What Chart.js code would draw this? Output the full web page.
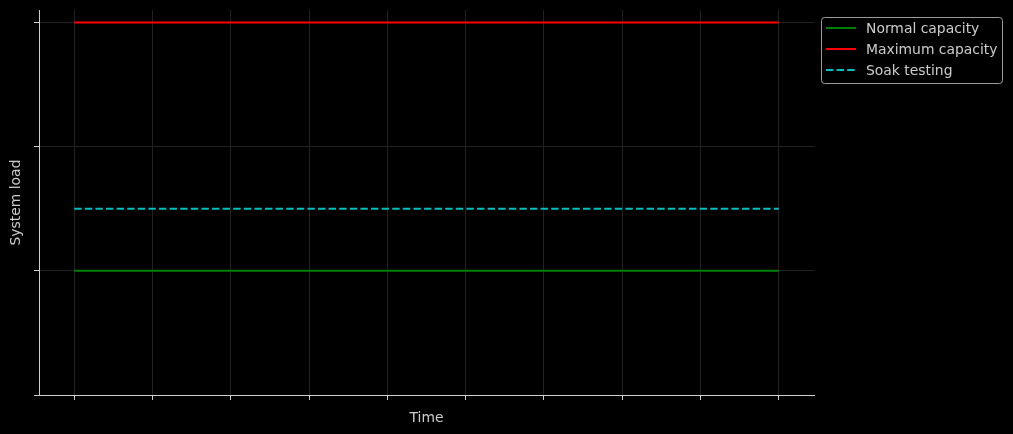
<!DOCTYPE html>
<html>
<head>
<meta charset="utf-8">
<script src="https://cdn.jsdelivr.net/npm/chart.js@4/dist/chart.umd.min.js"></script>
<style>
  html, body { margin: 0; padding: 0; background: #000; }
  #wrap { width: 1013px; height: 434px; position: relative; }
</style>
</head>
<body>
<div id="wrap"><canvas id="chart" width="1013" height="434"></canvas></div>
<script>
// time steps (x positions, no tick labels shown)
const timeSteps = [0, 1, 2, 3, 4, 5, 6, 7, 8, 9];
const loadTicks = [0, 1, 2, 3];

// series values
const normalCapacity = [1, 1, 1, 1, 1, 1, 1, 1, 1, 1];
const maximumCapacity = [3, 3, 3, 3, 3, 3, 3, 3, 3, 3];
const soakTesting = [1.5, 1.5, 1.5, 1.5, 1.5, 1.5, 1.5, 1.5, 1.5, 1.5];

const seriesLabels = ["Normal capacity", "Maximum capacity", "Soak testing"];

const toPoints = (vals) => vals.map((v, i) => ({ x: timeSteps[i], y: v }));

const FONT = "'DejaVu Sans', sans-serif";
const TEXT = "#cccccc";
const GRID = "#222222";

// titles + boxed legend, drawn the matplotlib way
const decorations = {
  id: "decorations",
  afterDraw(chart) {
    const ctx = chart.ctx;
    const area = chart.chartArea;
    ctx.save();
    ctx.fillStyle = TEXT;
    ctx.font = "13.9px " + FONT;
    ctx.textAlign = "center";
    ctx.textBaseline = "middle";
    ctx.fillText("Time", (area.left + area.right) / 2, 418.5);
    ctx.save();
    ctx.translate(16.5, (area.top + area.bottom) / 2);
    ctx.rotate(-Math.PI / 2);
    ctx.fillText("System load", 0, 0);
    ctx.restore();

    // legend box
    const bx = 821.5, by = 17.5, bw = 181, bh = 66;
    ctx.beginPath();
    ctx.roundRect(bx, by, bw, bh, 3);
    ctx.fillStyle = "#000";
    ctx.fill();
    ctx.strokeStyle = "#9a9a9a";
    ctx.lineWidth = 1;
    ctx.stroke();

    const rows = [28, 49, 70];
    chart.data.datasets.forEach((ds, i) => {
      const y = rows[i];
      ctx.beginPath();
      ctx.setLineDash(ds.borderDash || []);
      ctx.strokeStyle = ds.borderColor;
      ctx.lineWidth = ds.borderWidth;
      ctx.moveTo(826, y);
      ctx.lineTo(856, y);
      ctx.stroke();
      ctx.setLineDash([]);
      ctx.fillStyle = TEXT;
      ctx.textAlign = "left";
      ctx.textBaseline = "middle";
      ctx.fillText(ds.label, 866, y + 1.5);
    });
    ctx.restore();
  }
};

new Chart(document.getElementById("chart"), {
  type: "line",
  data: {
    datasets: [
      {
        label: seriesLabels[0],
        data: toPoints(normalCapacity),
        borderColor: "#008000",
        borderWidth: 2,
        pointRadius: 0,
      },
      {
        label: seriesLabels[1],
        data: toPoints(maximumCapacity),
        borderColor: "#ff0000",
        borderWidth: 2,
        pointRadius: 0,
      },
      {
        label: seriesLabels[2],
        data: toPoints(soakTesting),
        borderColor: "#00bfbf",
        borderWidth: 2,
        borderDash: [7.4, 3.2],
        pointRadius: 0,
      },
    ],
  },
  options: {
    responsive: false,
    animation: false,
    layout: { padding: { left: 0, top: 10, right: 199, bottom: 0 } },
    plugins: {
      legend: { display: false },
      tooltip: { enabled: false },
    },
    scales: {
      x: {
        type: "linear",
        min: -0.45,
        max: 9.45,
        afterBuildTicks: (s) => { s.ticks = timeSteps.map((v) => ({ value: v })); },
        afterFit: (s) => { s.height = 39; },
        ticks: { display: false },
        grid: { color: GRID, tickColor: "#cccccc", tickLength: 5, lineWidth: 1 },
        border: { color: "#cccccc", width: 1 },
      },
      y: {
        type: "linear",
        min: 0,
        max: 3.1,
        afterBuildTicks: (s) => { s.ticks = loadTicks.map((v) => ({ value: v })); },
        afterFit: (s) => { s.width = 39; },
        ticks: { display: false },
        grid: { color: GRID, tickColor: "#cccccc", tickLength: 5, lineWidth: 1 },
        border: { color: "#cccccc", width: 1 },
      },
    },
  },
  plugins: [decorations],
});
</script>
</body>
</html>
